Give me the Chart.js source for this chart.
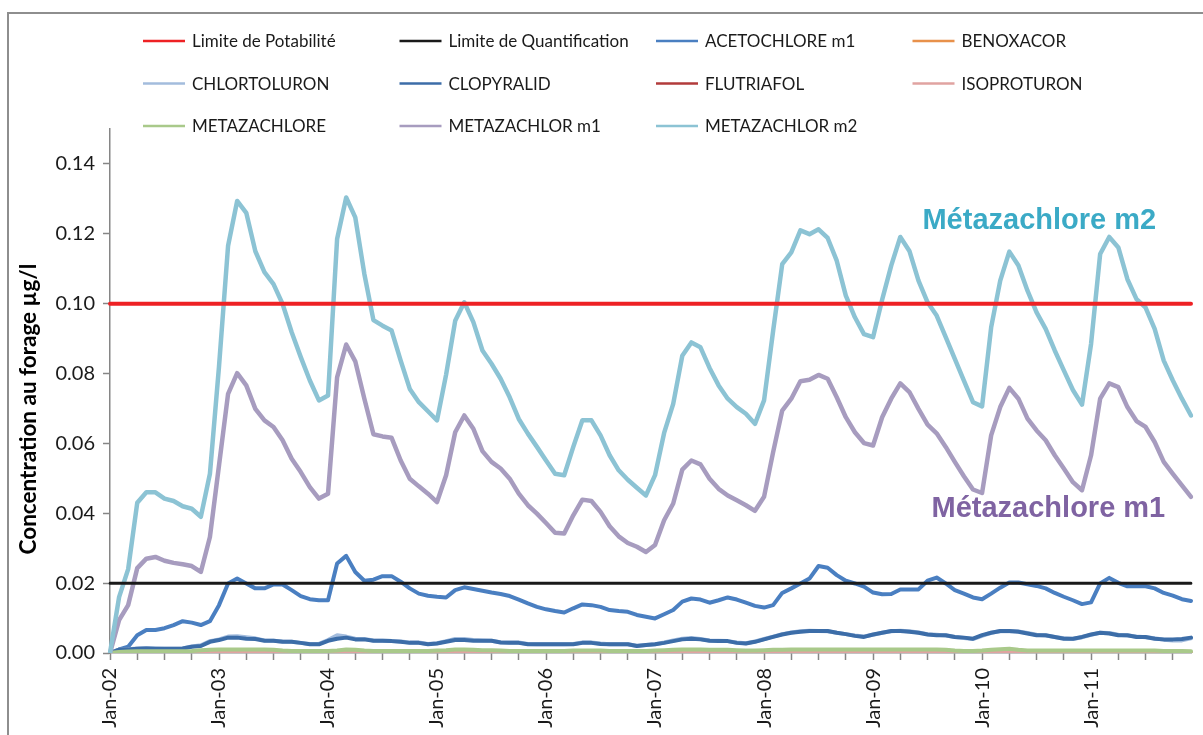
<!DOCTYPE html>
<html>
<head>
<meta charset="utf-8">
<title>Concentration au forage</title>
<script src="https://cdn.jsdelivr.net/npm/chart.js@4.4.1/dist/chart.umd.min.js"></script>
<style>
  html, body { margin: 0; padding: 0; background: #fff; }
  #wrap { position: relative; width: 1203px; height: 735px; overflow: hidden; }
</style>
</head>
<body>
<div id="wrap"><canvas id="chart" width="1203" height="735"></canvas></div>
<script>
/* monthly concentrations at the borehole, Jan-02 .. Dec-11 */

const MONTHS = ["Jan", "Feb", "Mar", "Apr", "May", "Jun", "Jul", "Aug", "Sep", "Oct", "Nov", "Dec"];
const YEARS = ["02", "03", "04", "05", "06", "07", "08", "09", "10", "11"];
const LABELS = [];
YEARS.forEach((y) => MONTHS.forEach((m) => LABELS.push(`${m}-${y}`)));

const Y_TICKS = [0, 0.02, 0.04, 0.06, 0.08, 0.1, 0.12, 0.14];

const LIMITE_POTABILITE = 0.1;
const LIMITE_QUANTIFICATION = 0.02;

const ACETOCHLORE_M1 = [
  0, 0.001, 0.0018, 0.0051, 0.0066, 0.0066, 0.0071, 0.008, 0.0091, 0.0087, 0.008, 0.0091,
  0.0137, 0.0199, 0.0213, 0.0199, 0.0185, 0.0185, 0.0196, 0.0196, 0.018, 0.0163, 0.0154, 0.0151,
  0.0151, 0.0256, 0.0278, 0.0232, 0.0207, 0.021, 0.022, 0.022, 0.0204, 0.0185, 0.017, 0.0164,
  0.0161, 0.0159, 0.018, 0.0188, 0.0183, 0.0178, 0.0173, 0.0169, 0.0163, 0.0153, 0.0142, 0.0132,
  0.0125, 0.012, 0.0116, 0.0128, 0.0139, 0.0137, 0.0132, 0.0123, 0.012, 0.0118, 0.0109, 0.0104,
  0.0099, 0.0111, 0.0123, 0.0147, 0.0156, 0.0153, 0.0144, 0.0151, 0.0159, 0.0153, 0.0144, 0.0135,
  0.013, 0.0137, 0.0172, 0.0185, 0.0199, 0.0213, 0.0249, 0.0244, 0.0223, 0.0207, 0.0199, 0.019,
  0.0173, 0.0168, 0.0169, 0.0182, 0.0182, 0.0182, 0.0207, 0.0216, 0.0199, 0.018, 0.017, 0.0159,
  0.0154, 0.017, 0.0187, 0.0202, 0.0202, 0.0197, 0.0192, 0.0185, 0.0172, 0.0161, 0.0151, 0.014,
  0.0145, 0.0199, 0.0215, 0.0201, 0.0191, 0.0191, 0.0191, 0.0185, 0.0172, 0.0164, 0.0154, 0.0149,
];

const BENOXACOR = [
  0, 0, 0, 0, 0, 0, 0, 0, 0, 0, 0, 0,
  0, 0.0001, 0.0001, 0.0001, 0, 0, 0, 0, 0, 0, 0, 0,
  0, 0.0001, 0.0001, 0, 0, 0, 0, 0, 0, 0, 0, 0,
  0, 0, 0.0001, 0.0001, 0, 0, 0, 0, 0, 0, 0, 0,
  0, 0, 0, 0, 0, 0, 0, 0, 0, 0, 0, 0,
  0, 0, 0.0001, 0.0001, 0.0001, 0, 0, 0, 0, 0, 0, 0,
  0, 0, 0.0001, 0.0001, 0.0001, 0.0001, 0.0001, 0, 0, 0, 0, 0,
  0, 0, 0.0001, 0.0001, 0, 0, 0, 0, 0, 0, 0, 0,
  0, 0, 0.0001, 0.0001, 0, 0, 0, 0, 0, 0, 0, 0,
  0, 0.0001, 0.0001, 0, 0, 0, 0, 0, 0, 0, 0, 0,
];

const CHLORTOLURON = [
  0, 0.001, 0.0011, 0.0013, 0.0014, 0.0013, 0.0012, 0.0012, 0.0013, 0.0019, 0.0022, 0.0034,
  0.0039, 0.0047, 0.0048, 0.0045, 0.0042, 0.0036, 0.0035, 0.0033, 0.0032, 0.0029, 0.0026, 0.0026,
  0.0037, 0.0051, 0.0047, 0.0041, 0.004, 0.0036, 0.0035, 0.0034, 0.0033, 0.003, 0.003, 0.0026,
  0.0028, 0.0034, 0.004, 0.004, 0.0037, 0.0036, 0.0035, 0.0031, 0.003, 0.003, 0.0026, 0.0025,
  0.0025, 0.0025, 0.0025, 0.0026, 0.003, 0.003, 0.0027, 0.0025, 0.0025, 0.0025, 0.0021, 0.0023,
  0.0025, 0.003, 0.0036, 0.0041, 0.0043, 0.004, 0.0036, 0.0035, 0.0034, 0.003, 0.0028, 0.0033,
  0.004, 0.0047, 0.0054, 0.0059, 0.0062, 0.0064, 0.0063, 0.0062, 0.0058, 0.0054, 0.005, 0.0047,
  0.0052, 0.0058, 0.0062, 0.0064, 0.0062, 0.0059, 0.0054, 0.0052, 0.005, 0.0046, 0.0043, 0.004,
  0.0049, 0.0058, 0.0062, 0.0063, 0.0062, 0.0057, 0.0052, 0.005, 0.0046, 0.0042, 0.004, 0.0045,
  0.0052, 0.0058, 0.0057, 0.0052, 0.005, 0.0047, 0.0045, 0.0042, 0.0038, 0.0036, 0.0036, 0.0042,
];

const CLOPYRALID = [
  0, 0.001, 0.001, 0.0012, 0.0013, 0.0012, 0.0012, 0.0012, 0.0013, 0.0018, 0.002, 0.0032,
  0.0037, 0.0044, 0.0044, 0.0041, 0.004, 0.0035, 0.0035, 0.0032, 0.0032, 0.0029, 0.0025, 0.0025,
  0.0035, 0.0041, 0.0044, 0.0039, 0.0039, 0.0035, 0.0035, 0.0034, 0.0032, 0.0029, 0.0029, 0.0025,
  0.0027, 0.0032, 0.0037, 0.0037, 0.0035, 0.0035, 0.0035, 0.003, 0.0029, 0.0029, 0.0025, 0.0025,
  0.0025, 0.0025, 0.0025, 0.0025, 0.0029, 0.0029, 0.0026, 0.0025, 0.0025, 0.0025, 0.002, 0.0023,
  0.0025, 0.0029, 0.0034, 0.0039, 0.0041, 0.0039, 0.0035, 0.0034, 0.0034, 0.0029, 0.0027, 0.0032,
  0.0039, 0.0046, 0.0053, 0.0058, 0.0061, 0.0063, 0.0063, 0.0063, 0.0058, 0.0054, 0.0049, 0.0046,
  0.0053, 0.0058, 0.0063, 0.0063, 0.0061, 0.0058, 0.0053, 0.0051, 0.0051, 0.0046, 0.0044, 0.0041,
  0.0051, 0.0058, 0.0063, 0.0063, 0.0061, 0.0056, 0.0051, 0.0051, 0.0046, 0.0041, 0.0041, 0.0046,
  0.0053, 0.0058, 0.0056, 0.0051, 0.0051, 0.0046, 0.0046, 0.0041, 0.0039, 0.0039, 0.004, 0.0044,
];

const FLUTRIAFOL = [
  0, 0, 0, 0, 0, 0, 0, 0, 0, 0, 0, 0.0001,
  0.0002, 0.0002, 0.0002, 0.0002, 0.0001, 0.0001, 0.0001, 0.0001, 0.0001, 0, 0, 0,
  0.0001, 0.0002, 0.0002, 0.0002, 0.0001, 0.0001, 0, 0, 0, 0, 0, 0,
  0, 0.0001, 0.0002, 0.0002, 0.0001, 0.0001, 0, 0, 0, 0, 0, 0,
  0, 0, 0, 0, 0.0001, 0.0001, 0.0001, 0, 0, 0, 0, 0,
  0, 0.0001, 0.0002, 0.0002, 0.0002, 0.0001, 0.0001, 0, 0, 0, 0, 0,
  0.0001, 0.0001, 0.0002, 0.0002, 0.0002, 0.0002, 0.0002, 0.0001, 0.0001, 0, 0, 0,
  0, 0.0001, 0.0001, 0.0001, 0.0001, 0.0001, 0, 0, 0, 0, 0, 0,
  0, 0.0001, 0.0002, 0.0002, 0.0001, 0.0001, 0, 0, 0, 0, 0, 0,
  0, 0.0001, 0.0001, 0.0001, 0.0001, 0, 0, 0, 0, 0, 0, 0,
];

const ISOPROTURON = [
  0, 0.0001, 0.0001, 0.0002, 0.0002, 0.0002, 0.0002, 0.0002, 0.0002, 0.0002, 0.0003, 0.0003,
  0.0004, 0.0004, 0.0004, 0.0004, 0.0004, 0.0003, 0.0003, 0.0003, 0.0003, 0.0002, 0.0002, 0.0002,
  0.0003, 0.0004, 0.0005, 0.0004, 0.0004, 0.0003, 0.0003, 0.0003, 0.0002, 0.0002, 0.0002, 0.0002,
  0.0002, 0.0003, 0.0004, 0.0004, 0.0004, 0.0003, 0.0003, 0.0003, 0.0002, 0.0002, 0.0002, 0.0002,
  0.0002, 0.0002, 0.0002, 0.0003, 0.0003, 0.0003, 0.0003, 0.0002, 0.0002, 0.0002, 0.0002, 0.0002,
  0.0002, 0.0003, 0.0004, 0.0004, 0.0004, 0.0004, 0.0003, 0.0003, 0.0003, 0.0003, 0.0002, 0.0002,
  0.0003, 0.0003, 0.0004, 0.0004, 0.0004, 0.0004, 0.0004, 0.0004, 0.0003, 0.0003, 0.0003, 0.0003,
  0.0003, 0.0003, 0.0004, 0.0004, 0.0004, 0.0003, 0.0003, 0.0003, 0.0003, 0.0002, 0.0002, 0.0002,
  0.0002, 0.0003, 0.0004, 0.0004, 0.0004, 0.0003, 0.0003, 0.0003, 0.0003, 0.0002, 0.0002, 0.0002,
  0.0003, 0.0003, 0.0003, 0.0003, 0.0003, 0.0003, 0.0002, 0.0002, 0.0002, 0.0002, 0.0002, 0.0001,
];

const METAZACHLORE = [
  0, 0.0003, 0.0004, 0.0005, 0.0005, 0.0005, 0.0005, 0.0005, 0.0005, 0.0006, 0.0008, 0.0009,
  0.001, 0.001, 0.001, 0.001, 0.001, 0.001, 0.0009, 0.0007, 0.0006, 0.0006, 0.0006, 0.0006,
  0.0006, 0.0007, 0.001, 0.0009, 0.0007, 0.0006, 0.0006, 0.0006, 0.0006, 0.0006, 0.0006, 0.0006,
  0.0007, 0.0008, 0.001, 0.001, 0.0009, 0.0008, 0.0008, 0.0007, 0.0006, 0.0006, 0.0006, 0.0006,
  0.0006, 0.0006, 0.0006, 0.0007, 0.0007, 0.0007, 0.0007, 0.0006, 0.0006, 0.0006, 0.0006, 0.0006,
  0.0007, 0.0008, 0.0009, 0.001, 0.001, 0.001, 0.0009, 0.0009, 0.0009, 0.0008, 0.0007, 0.0007,
  0.0008, 0.0009, 0.0009, 0.001, 0.001, 0.001, 0.001, 0.001, 0.001, 0.001, 0.001, 0.001,
  0.001, 0.001, 0.001, 0.001, 0.001, 0.001, 0.001, 0.001, 0.0009, 0.0007, 0.0006, 0.0006,
  0.0007, 0.0009, 0.0011, 0.0012, 0.0009, 0.0007, 0.0007, 0.0007, 0.0007, 0.0007, 0.0007, 0.0007,
  0.0007, 0.0007, 0.0007, 0.0007, 0.0007, 0.0007, 0.0007, 0.0007, 0.0006, 0.0006, 0.0006, 0.0005,
];

const METAZACHLOR_M1 = [
  0, 0.0094, 0.0137, 0.0243, 0.027, 0.0275, 0.0264, 0.0258, 0.0254, 0.0249, 0.0232, 0.0332,
  0.0537, 0.0742, 0.0801, 0.0766, 0.0699, 0.0666, 0.0647, 0.0609, 0.0556, 0.0518, 0.0475, 0.0442,
  0.0456, 0.0789, 0.0883, 0.0835, 0.0728, 0.0626, 0.062, 0.0616, 0.0551, 0.0499, 0.0477, 0.0456,
  0.0432, 0.0509, 0.0632, 0.068, 0.0642, 0.0578, 0.0547, 0.0528, 0.0499, 0.0456, 0.0423, 0.0399,
  0.0372, 0.0344, 0.0342, 0.0394, 0.0439, 0.0435, 0.0404, 0.0363, 0.0334, 0.0315, 0.0304, 0.0289,
  0.0309, 0.038, 0.0428, 0.0525, 0.0551, 0.054, 0.0499, 0.047, 0.0451, 0.0437, 0.0423, 0.0407,
  0.0447, 0.0575, 0.0694, 0.0728, 0.0778, 0.0782, 0.0796, 0.0785, 0.0732, 0.0675, 0.0632, 0.0601,
  0.0594, 0.0675, 0.0728, 0.0772, 0.0747, 0.0699, 0.0654, 0.0629, 0.059, 0.0547, 0.0506, 0.0468,
  0.0458, 0.0623, 0.0704, 0.0759, 0.0728, 0.0671, 0.0637, 0.0609, 0.0566, 0.0528, 0.0489, 0.0466,
  0.0566, 0.0728, 0.0772, 0.0761, 0.0704, 0.0664, 0.0647, 0.0604, 0.0547, 0.0513, 0.048, 0.0447,
];

const METAZACHLOR_M2 = [
  0, 0.016, 0.024, 0.043, 0.046, 0.046, 0.0442, 0.0435, 0.042, 0.0413, 0.039, 0.0513,
  0.082, 0.1166, 0.1294, 0.126, 0.115, 0.109, 0.1056, 0.0999, 0.0918, 0.0847, 0.078, 0.0723,
  0.0737, 0.1185, 0.1304, 0.1247, 0.1085, 0.0953, 0.0937, 0.0923, 0.0837, 0.0756, 0.0718, 0.0692,
  0.0666, 0.0797, 0.0951, 0.1004, 0.0947, 0.0866, 0.0828, 0.0785, 0.0732, 0.067, 0.0628, 0.059,
  0.0551, 0.0513, 0.0509, 0.059, 0.0666, 0.0666, 0.0623, 0.0566, 0.0523, 0.0496, 0.0473, 0.0451,
  0.0509, 0.063, 0.0713, 0.0851, 0.0889, 0.0875, 0.0816, 0.0766, 0.0728, 0.0704, 0.0685, 0.0656,
  0.0723, 0.0922, 0.1113, 0.1147, 0.121, 0.1199, 0.1213, 0.1188, 0.1123, 0.1023, 0.0961, 0.0913,
  0.0904, 0.1011, 0.1109, 0.1191, 0.1151, 0.1066, 0.1004, 0.0966, 0.0904, 0.0842, 0.078, 0.0718,
  0.0706, 0.0932, 0.1066, 0.1149, 0.1109, 0.1037, 0.0975, 0.0928, 0.0866, 0.0809, 0.0753, 0.0711,
  0.0885, 0.1142, 0.1191, 0.1161, 0.107, 0.1013, 0.0989, 0.0928, 0.0837, 0.078, 0.0728, 0.068,
];

// legend order = series order in the workbook
const SERIES = [
  { label: "Limite de Potabilité", data: new Array(LABELS.length).fill(LIMITE_POTABILITE), color: "#EE2124", width: 4, order: 0 },
  { label: "Limite de Quantification", data: new Array(LABELS.length).fill(LIMITE_QUANTIFICATION), color: "#1A1A1A", width: 3, order: 1 },
  { label: "ACETOCHLORE m1", data: ACETOCHLORE_M1, color: "#4A7FC1", width: 4 },
  { label: "BENOXACOR", data: BENOXACOR, color: "#E8914B", width: 4 },
  { label: "CHLORTOLURON", data: CHLORTOLURON, color: "#A3BCDD", width: 4 },
  { label: "CLOPYRALID", data: CLOPYRALID, color: "#3C6DA8", width: 4 },
  { label: "FLUTRIAFOL", data: FLUTRIAFOL, color: "#B23B3B", width: 4 },
  { label: "ISOPROTURON", data: ISOPROTURON, color: "#E0A3A1", width: 4 },
  { label: "METAZACHLORE", data: METAZACHLORE, color: "#A9C98A", width: 4 },
  { label: "METAZACHLOR m1", data: METAZACHLOR_M1, color: "#A79CBF", width: 4.5 },
  { label: "METAZACHLOR m2", data: METAZACHLOR_M2, color: "#8CC3D4", width: 4.5 },
];

const NOTES = [
  { text: "Métazachlore m2", at: 102.3, value: 0.1214, color: "#3BAAC6" },
  { text: "Métazachlore m1", at: 103.3, value: 0.0389, color: "#7F63A2" },
];

const Y_TITLE = "Concentration au forage µg/l";

const AXIS_GREY = "#868686";
const FONT = "Lato, 'Open Sans', sans-serif";

// frame round the chart, grid legend at the top, axis title and callout labels
const decorations = {
  id: "decorations",
  beforeDraw(chart) {
    const ctx = chart.ctx;
    ctx.save();
    ctx.fillStyle = "#fff";
    ctx.fillRect(0, 0, chart.width, chart.height);
    ctx.strokeStyle = "#8E8E8E";
    ctx.lineWidth = 2;
    ctx.strokeRect(8, 13, chart.width + 40, chart.height + 40);
    ctx.restore();
  },
  afterDraw(chart) {
    const ctx = chart.ctx;
    ctx.save();
    ctx.font = `17px ${FONT}`;
    ctx.textBaseline = "middle";
    ctx.textAlign = "left";
    chart.data.datasets.forEach((ds, i) => {
      const x = 143 + (i % 4) * 256.5;
      const y = 41 + Math.floor(i / 4) * 42.5;
      ctx.strokeStyle = ds.borderColor;
      ctx.lineWidth = 2.5;
      ctx.beginPath();
      ctx.moveTo(x, y);
      ctx.lineTo(x + 42, y);
      ctx.stroke();
      ctx.fillStyle = "#1a1a1a";
      ctx.fillText(ds.label, x + 49, y + 1);
    });

    // y axis title, a little below the middle of the axis as in the workbook
    ctx.save();
    ctx.translate(29, 409);
    ctx.rotate(-Math.PI / 2);
    ctx.font = `bold 22.5px ${FONT}`;
    ctx.fillStyle = "#000";
    ctx.textAlign = "center";
    ctx.fillText(Y_TITLE, 0, 0);
    ctx.restore();

    const xs = chart.scales.x, ys = chart.scales.y;
    ctx.font = `bold 29px 'Liberation Sans', Arial, sans-serif`;
    ctx.textAlign = "center";
    ctx.textBaseline = "alphabetic";
    NOTES.forEach((n) => {
      ctx.fillStyle = n.color;
      ctx.fillText(n.text, xs.getPixelForValue(n.at), ys.getPixelForValue(n.value));
    });
    ctx.restore();
  },
};

new Chart(document.getElementById("chart"), {
  type: "line",
  data: {
    labels: LABELS,
    datasets: SERIES.map((s, i) => ({
      label: s.label,
      data: s.data,
      borderColor: s.color,
      backgroundColor: s.color,
      borderWidth: s.width,
      pointRadius: 0,
      pointHoverRadius: 0,
      tension: 0,
      borderJoinStyle: "round",
      borderCapStyle: "round",
      fill: false,
      order: s.order !== undefined ? s.order : 20 - i,
    })),
  },
  options: {
    responsive: false,
    animation: false,
    events: [],
    layout: { padding: { top: 129, right: 12, bottom: 0, left: 0 } },
    plugins: { legend: { display: false }, tooltip: { enabled: false } },
    scales: {
      x: {
        type: "category",
        offset: false,
        border: { color: AXIS_GREY, width: 1.5 },
        grid: {
          drawOnChartArea: false,
          tickLength: 7,
          tickWidth: 1.5,
          tickColor: (c) => (c.index % 3 === 0 ? AXIS_GREY : "rgba(0,0,0,0)"),
        },
        ticks: {
          autoSkip: false,
          maxRotation: 90,
          minRotation: 90,
          padding: 8,
          color: "#1a1a1a",
          font: { family: FONT, size: 20 },
          callback: (v, i) => (i % 12 === 0 ? LABELS[i] : ""),
        },
        afterFit: (s) => { s.height = 82; s.paddingRight = 0; },
      },
      y: {
        min: 0,
        max: 0.15,
        border: { color: AXIS_GREY, width: 1.5 },
        grid: { drawOnChartArea: false, tickLength: 7, tickWidth: 1.5, tickColor: AXIS_GREY },
        ticks: {
          padding: 8,
          color: "#1a1a1a",
          font: { family: FONT, size: 20 },
          callback: (v) => Number(v).toFixed(2),
        },
        afterBuildTicks: (s) => { s.ticks = Y_TICKS.map((v) => ({ value: v })); },
        afterFit: (s) => { s.width = 110; },
      },
    },
  },
  plugins: [decorations],
});
</script>
</body>
</html>
